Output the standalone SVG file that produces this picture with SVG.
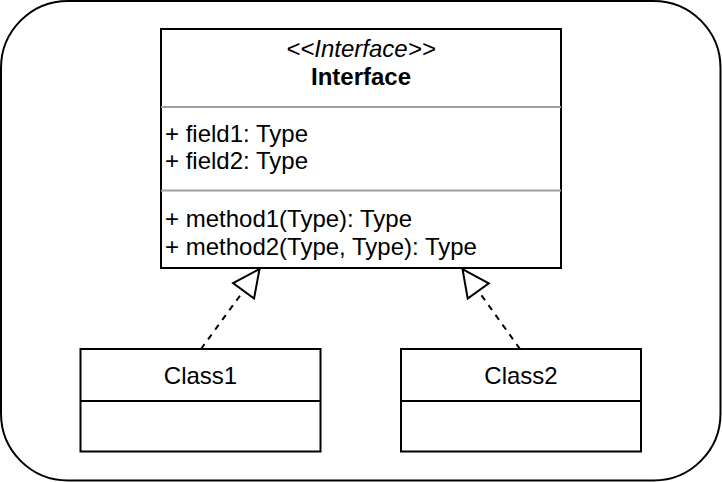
<svg xmlns="http://www.w3.org/2000/svg" width="722" height="482" viewBox="0 0 722 482">
  <style>
    .box { fill: #ffffff; stroke: #000000; stroke-width: 2; }
    .sep { stroke: #a0a0a0; stroke-width: 2; }
    .sepb { stroke: #000000; stroke-width: 2; }
    .t { font-family: "Liberation Sans", Arial, Helvetica, sans-serif; font-size: 24px; fill: #000000; }
    .c { text-anchor: middle; }
    .edge { fill: none; stroke: #000000; stroke-width: 2; stroke-dasharray: 6 6; }
  </style>
  <defs>
    <marker id="realize" markerUnits="userSpaceOnUse" viewBox="-2 -16 32 32" refX="27" refY="0" markerWidth="32" markerHeight="32" orient="auto" overflow="visible">
      <path d="M0,-13 L27,0 L0,13 Z" fill="#ffffff" stroke="#000000" stroke-width="2" stroke-linejoin="miter"/>
    </marker>
  </defs>
  <rect id="frame" x="1" y="1" width="719.5" height="479.5" rx="67" ry="67" fill="#ffffff" stroke="#000000" stroke-width="2"/>
  <g id="connectors">
    <line class="edge" x1="201" y1="349" x2="259.5" y2="269" marker-end="url(#realize)"/>
    <line class="edge" x1="520" y1="349" x2="462.5" y2="269" marker-end="url(#realize)"/>
  </g>
  <g id="interface">
    <rect class="box" x="161" y="29" width="400" height="239"/>
    <text class="t c" x="361" y="57" font-style="italic">&lt;&lt;Interface&gt;&gt;</text>
    <text class="t c" x="361" y="85" font-weight="bold">Interface</text>
    <line class="sep" x1="161" y1="107" x2="561" y2="107"/>
    <text class="t" x="165" y="141.5">+ field1: Type</text>
    <text class="t" x="165" y="169">+ field2: Type</text>
    <line class="sep" x1="161" y1="190.5" x2="561" y2="190.5"/>
    <text class="t" x="165" y="227">+ method1(Type): Type</text>
    <text class="t" x="165" y="254.5">+ method2(Type, Type): Type</text>
  </g>
  <g id="class1">
    <rect class="box" x="80.5" y="349" width="240" height="102.5"/>
    <line class="sepb" x1="80.5" y1="401" x2="320.5" y2="401"/>
    <text class="t c" x="200.5" y="384">Class1</text>
  </g>
  <g id="class2">
    <rect class="box" x="401" y="349" width="240" height="102.5"/>
    <line class="sepb" x1="401" y1="401" x2="641" y2="401"/>
    <text class="t c" x="521" y="384">Class2</text>
  </g>
</svg>
